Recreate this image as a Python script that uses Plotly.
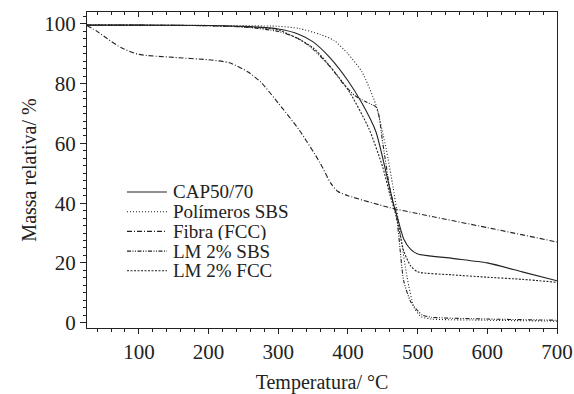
import plotly.graph_objects as go

# ---- data ----
t_cap = [25, 100, 200, 250, 300, 330, 350, 375, 400, 420, 440, 455, 465, 470, 480, 490, 500, 550, 600, 650, 700]
m_cap = [99.6, 99.6, 99.5, 99.2, 98.3, 96.5, 94.0, 88.5, 81.0, 73.5, 64.0, 50.0, 40.0, 36.0, 28.0, 24.5, 23.0, 21.5, 20.0, 17.0, 14.0]

t_sbs = [25, 100, 200, 300, 330, 360, 380, 400, 420, 440, 455, 465, 475, 485, 495, 505, 520, 600, 700]
m_sbs = [99.6, 99.6, 99.5, 99.2, 98.5, 96.5, 94.5, 90.0, 84.0, 73.0, 58.0, 45.0, 30.0, 15.0, 5.0, 2.0, 1.2, 0.8, 0.5]

t_fib = [25, 40, 55, 75, 100, 150, 200, 230, 256, 275, 300, 330, 360, 375, 385, 400, 460, 500, 600, 700]
m_fib = [99.5, 97.5, 95.0, 92.0, 89.8, 88.8, 88.0, 87.0, 84.0, 80.5, 73.5, 64.5, 53.5, 46.8, 44.0, 42.5, 38.5, 36.5, 31.8, 27.0]

t_lms = [25, 100, 200, 250, 300, 330, 350, 375, 395, 410, 425, 441, 450, 460, 470, 480, 490, 500, 507, 520, 600, 700]
m_lms = [99.6, 99.6, 99.4, 99.0, 97.5, 95.0, 91.5, 85.5, 79.5, 76.0, 74.0, 72.0, 60.0, 45.0, 35.0, 14.0, 7.0, 4.0, 2.5, 1.8, 1.2, 0.8]

t_lmf = [25, 100, 200, 250, 300, 350, 400, 430, 450, 460, 470, 480, 490, 500, 550, 600, 650, 700]
m_lmf = [99.6, 99.6, 99.4, 99.0, 98.0, 92.0, 78.0, 65.0, 52.0, 43.0, 35.0, 24.0, 19.0, 17.0, 16.0, 15.2, 14.5, 13.5]

names = ["CAP50/70", "Polímeros SBS", "Fibra (FCC)", "LM 2% SBS", "LM 2% FCC"]
dashes = ["solid", "1px,2px", "5px,2px,1px,2px", "4px,1.5px,1px,1.5px,1px,1.5px", "2px,1.5px"]

x_ticks = [100, 200, 300, 400, 500, 600, 700]
y_ticks = [0, 20, 40, 60, 80, 100]

FONT = "Liberation Serif"
INK = "#222222"

W, H = 574, 394
ML, MR, MT, MB = 87, 17, 12, 66
PW, PH = W - ML - MR, H - MT - MB

fig = go.Figure()
series = [(t_cap, m_cap), (t_sbs, m_sbs), (t_fib, m_fib), (t_lms, m_lms), (t_lmf, m_lmf)]
for (tx, my), nm, ds in zip(series, names, dashes):
    fig.add_trace(go.Scatter(x=tx, y=my, mode="lines", name=nm, showlegend=False,
                             line=dict(color=INK, width=1.1, dash=ds, shape="spline", smoothing=0.6)))

# dummy trace to anchor the top tick axis
fig.add_trace(go.Scatter(x=[None], y=[None], xaxis="x2", showlegend=False, hoverinfo="skip"))

# manual legend (tight row spacing like the reference)
leg_x0, leg_x1, leg_tx = 127, 167, 171   # pixels
leg_y0, leg_dy = 192, 19.7
for i, (nm, ds) in enumerate(zip(names, dashes)):
    yp = (MT + PH - (leg_y0 + i * leg_dy)) / PH
    fig.add_shape(type="line", xref="paper", yref="paper",
                  x0=(leg_x0 - ML) / PW, x1=(leg_x1 - ML) / PW, y0=yp, y1=yp,
                  line=dict(color=INK, width=1.1, dash=ds))
    fig.add_annotation(xref="paper", yref="paper", x=(leg_tx - ML) / PW, y=yp,
                       xanchor="left", yanchor="middle", text=nm, showarrow=False,
                       height=17, valign="middle",
                       font=dict(family=FONT, size=19, color=INK))

xr = [25.5, 700]
yr = [-1.8, 104]

fig.update_layout(
    width=W, height=H,
    margin=dict(l=ML, r=MR, t=MT, b=MB, autoexpand=False),
    paper_bgcolor="white", plot_bgcolor="white",
    font=dict(family=FONT, size=21, color=INK),
    showlegend=False,
    xaxis=dict(range=xr, tickvals=x_ticks, ticktext=[str(v) for v in x_ticks],
               showgrid=False, zeroline=False, automargin=False,
               showline=True, linecolor=INK, linewidth=1.2, mirror=True,
               ticks="outside", ticklen=5, tickwidth=1, tickcolor=INK,
               minor=dict(dtick=20, tick0=0, ticks="outside", ticklen=3, tickcolor=INK, showgrid=False),
               title=dict(text="Temperatura/ °C", font=dict(family=FONT, size=20), standoff=11),
               tickfont=dict(family=FONT, size=21)),
    xaxis2=dict(range=xr, overlaying="x", side="top", anchor="y", automargin=False,
                tickvals=x_ticks, showticklabels=False, showgrid=False, zeroline=False,
                ticks="inside", ticklen=5, tickwidth=1, tickcolor=INK,
                minor=dict(dtick=20, tick0=0, ticks="inside", ticklen=3, tickcolor=INK, showgrid=False)),
    yaxis=dict(range=yr, tickvals=y_ticks, showgrid=False, zeroline=False, automargin=False,
               showline=True, linecolor=INK, linewidth=1.2, mirror=True,
               ticks="outside", ticklen=6, tickwidth=1, tickcolor=INK,
               minor=dict(dtick=2.5, tick0=0, ticks="outside", ticklen=3, tickcolor=INK, showgrid=False),
               title=dict(text="Massa relativa/ %", font=dict(family=FONT, size=20), standoff=2),
               tickfont=dict(family=FONT, size=21)),
)

fig.write_html("out.html", config={"displayModeBar": False},
               post_script="document.body.style.margin='0px';")

# remove the default page margin so the figure sits at the window's top-left corner
with open("out.html", "r", encoding="utf-8") as f:
    html = f.read()
html = html.replace("<body>", '<body style="margin:0;padding:0;overflow:hidden">', 1)
with open("out.html", "w", encoding="utf-8") as f:
    f.write(html)
